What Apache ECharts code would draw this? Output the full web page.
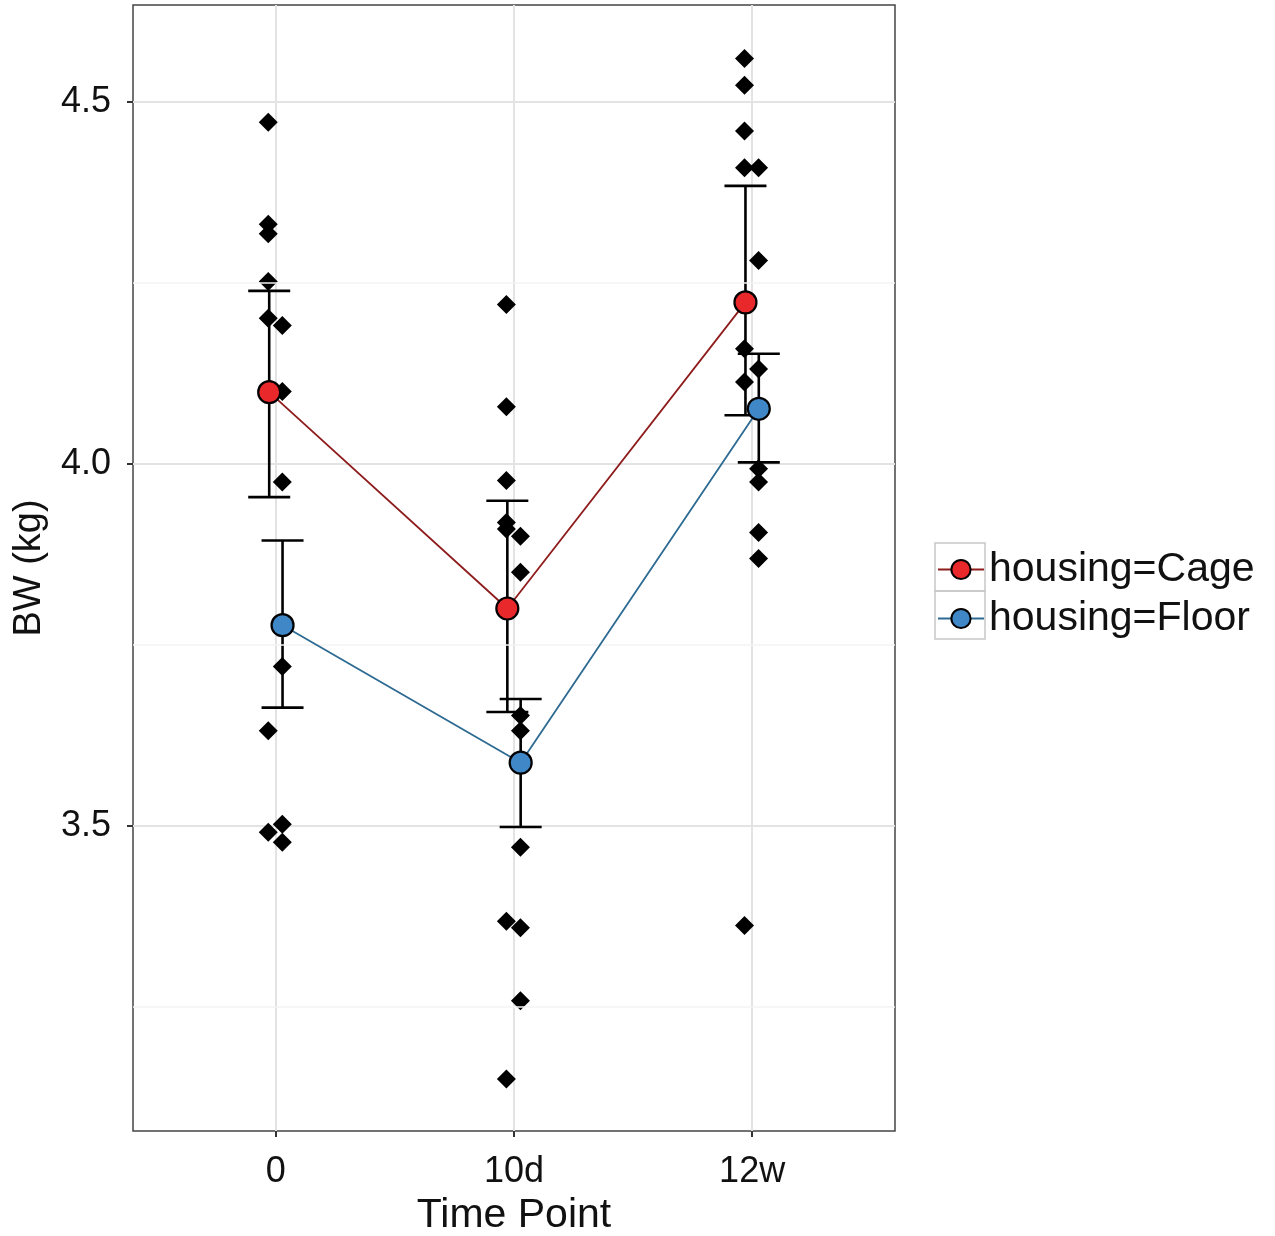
<!DOCTYPE html>
<html>
<head>
<meta charset="utf-8">
<script src="https://cdn.jsdelivr.net/npm/echarts@6/dist/echarts.min.js"></script>
<style>
html,body{margin:0;padding:0;background:#fff;}
#main{width:1275px;height:1236px;}
</style>
</head>
<body>
<div id="main"></div>
<script>
// ---- data ----
var categories = ['0', '10d', '12w'];
var yTicks = [3.5, 4.0, 4.5];
var yMinorTicks = [3.25, 3.75, 4.25];

var cageMean  = [4.099, 3.800, 4.223];
var cageLower = [3.954, 3.657, 4.067];
var cageUpper = [4.239, 3.949, 4.384];

var floorMean  = [3.777, 3.587, 4.076];
var floorLower = [3.663, 3.498, 4.002];
var floorUpper = [3.894, 3.675, 4.152];

var cagePoints0  = [4.472, 4.331, 4.318, 4.252, 4.201, 3.631, 3.491];
var cagePoints1  = [4.220, 4.079, 3.977, 3.919, 3.910, 3.368, 3.150];
var cagePoints2  = [4.560, 4.523, 4.460, 4.409, 4.159, 4.113, 3.362];
var floorPoints0 = [4.191, 4.100, 3.975, 3.720, 3.502, 3.477];
var floorPoints1 = [3.900, 3.850, 3.652, 3.631, 3.470, 3.359, 3.258];
var floorPoints2 = [4.409, 4.281, 4.131, 3.993, 3.975, 3.905, 3.869];

// ---- build ----
var CAGE_DODGE = -0.028, FLOOR_DODGE = 0.028;
var CAGE_PT_DODGE = -0.032, FLOOR_PT_DODGE = 0.027;

function pts(lists, dodge) {
  var out = [];
  lists.forEach(function (arr, i) {
    arr.forEach(function (v) { out.push([i + dodge, v]); });
  });
  return out;
}
function meanData(means, dodge) {
  return means.map(function (v, i) { return [i + dodge, v]; });
}
function errData(lo, hi, dodge) {
  return lo.map(function (v, i) { return [i + dodge, v, hi[i]]; });
}

var scatterAll = pts([cagePoints0, cagePoints1, cagePoints2], CAGE_PT_DODGE)
  .concat(pts([floorPoints0, floorPoints1, floorPoints2], FLOOR_PT_DODGE));

function renderErr(params, api) {
  var x = api.value(0);
  var p1 = api.coord([x, api.value(1)]);
  var p2 = api.coord([x, api.value(2)]);
  var hw = 21;
  var st = { stroke: '#000', lineWidth: 2.6 };
  return {
    type: 'group',
    children: [
      { type: 'line', shape: { x1: p1[0], y1: p1[1], x2: p2[0], y2: p2[1] }, style: st },
      { type: 'line', shape: { x1: p1[0] - hw, y1: p1[1], x2: p1[0] + hw, y2: p1[1] }, style: st },
      { type: 'line', shape: { x1: p2[0] - hw, y1: p2[1], x2: p2[0] + hw, y2: p2[1] }, style: st }
    ]
  };
}

var FONT = 'Liberation Sans, Arial, sans-serif';
var chart = echarts.init(document.getElementById('main'), null, { renderer: 'canvas' });

chart.setOption({
  animation: false,
  backgroundColor: '#fff',
  grid: {
    left: 133, right: 380, top: 5, bottom: 105,
    containLabel: false, outerBoundsMode: 'none',
    show: true, borderColor: '#444', borderWidth: 1.5, backgroundColor: '#fff'
  },
  xAxis: {
    type: 'value', min: -0.6, max: 2.6,
    name: 'Time Point', nameLocation: 'middle', nameGap: 64,
    nameTextStyle: { fontFamily: FONT, fontSize: 41, color: '#111' },
    axisLine: { show: false, onZero: false },
    axisTick: { show: true, length: 6, lineStyle: { color: '#333', width: 2 }, customValues: [0, 1, 2] },
    axisLabel: {
      fontFamily: FONT, fontSize: 36, color: '#111', margin: 23,
      customValues: [0, 1, 2],
      formatter: function (v) { return categories[Math.round(v)]; }
    },
    splitLine: { show: true, lineStyle: { color: '#e3e3e3', width: 2 } }
  },
  yAxis: {
    type: 'value', min: 3.078, max: 4.634,
    name: 'BW (kg)', nameLocation: 'middle', nameGap: 84, nameRotate: 90,
    nameTextStyle: { fontFamily: FONT, fontSize: 38, color: '#111' },
    axisLine: { show: false, onZero: false },
    axisTick: { show: true, length: 6, lineStyle: { color: '#333', width: 2 }, customValues: yTicks },
    axisLabel: {
      fontFamily: FONT, fontSize: 36, color: '#111', margin: 22,
      customValues: yTicks,
      formatter: function (v) { return v.toFixed(1); }
    },
    splitLine: { show: true, lineStyle: { color: '#e3e3e3', width: 2 } }
  },
  legend: {
    orient: 'vertical', left: 937, top: 549,
    itemWidth: 46, itemHeight: 24, itemGap: 8, padding: 0,
    data: ['housing=Cage', 'housing=Floor'],
    textStyle: { fontFamily: FONT, fontSize: 41, color: '#111' }
  },
  graphic: [
    { type: 'rect', shape: { x: 935, y: 543, width: 50, height: 48 }, style: { fill: 'none', stroke: '#c8c8c8', lineWidth: 1.5 }, z: -1 },
    { type: 'rect', shape: { x: 935, y: 591, width: 50, height: 48 }, style: { fill: 'none', stroke: '#c8c8c8', lineWidth: 1.5 }, z: -1 }
  ],
  series: [
    {
      name: 'minor-grid', type: 'line', data: [], silent: true,
      markLine: {
        silent: true, symbol: 'none', label: { show: false },
        lineStyle: { color: '#f3f3f3', width: 1.5, type: 'solid' },
        data: yMinorTicks.map(function (v) { return { yAxis: v }; })
      },
      z: 0
    },
    {
      name: 'points', type: 'scatter', data: scatterAll,
      symbol: 'diamond', symbolSize: [19, 19],
      itemStyle: { color: '#000', opacity: 1 }, z: 2
    },
    {
      name: 'err-cage', type: 'custom', data: errData(cageLower, cageUpper, CAGE_DODGE),
      renderItem: renderErr, z: 3
    },
    {
      name: 'err-floor', type: 'custom', data: errData(floorLower, floorUpper, FLOOR_DODGE),
      renderItem: renderErr, z: 3
    },
    {
      name: 'housing=Cage', type: 'line', data: meanData(cageMean, CAGE_DODGE),
      symbol: 'circle', symbolSize: 22, showSymbol: true,
      lineStyle: { color: '#8e1c1c', width: 1.8 },
      itemStyle: { color: '#e8282a', borderColor: '#000', borderWidth: 2.2 },
      z: 5
    },
    {
      name: 'housing=Floor', type: 'line', data: meanData(floorMean, FLOOR_DODGE),
      symbol: 'circle', symbolSize: 22, showSymbol: true,
      lineStyle: { color: '#2d6a92', width: 1.8 },
      itemStyle: { color: '#3f87c7', borderColor: '#000', borderWidth: 2.2 },
      z: 5
    }
  ]
});
</script>
</body>
</html>
